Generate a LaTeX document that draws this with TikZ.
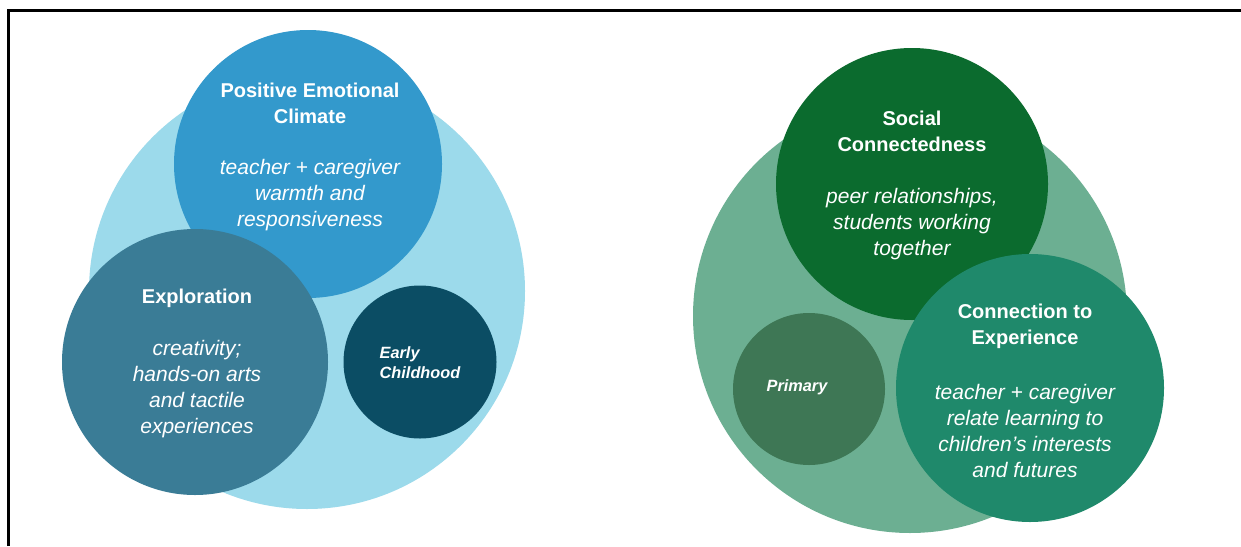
\documentclass[tikz,border=0pt]{standalone}
\usepackage{fontspec}
\setmainfont{Liberation Sans}
\definecolor{lblue}{HTML}{9CDAEB}
\definecolor{mblue}{HTML}{3399CC}
\definecolor{tblue}{HTML}{3A7C96}
\definecolor{dblue}{HTML}{0B4D64}
\definecolor{lgreen}{HTML}{6CAF92}
\definecolor{dgreen}{HTML}{0B6B2E}
\definecolor{tgreen}{HTML}{1F896B}
\definecolor{pgreen}{HTML}{3E7755}
\begin{document}
\begin{tikzpicture}[x=1pt,y=-1pt,
  disc/.style={circle, inner sep=0pt, draw=none},
  ttl/.style={text=white, font=\bfseries\fontsize{20}{26}\selectfont, align=center, inner sep=0pt},
  dsc/.style={text=white, font=\itshape\fontsize{21}{26}\selectfont, align=center, inner sep=0pt},
  tag/.style={text=white, font=\bfseries\itshape\fontsize{16.3}{20}\selectfont, align=left, inner sep=0pt}]
\useasboundingbox (0,0) rectangle (1241,546);
\fill[white] (0,0) rectangle (1241,546);
\draw[line width=3pt] (8,546) -- (8,10) -- (1241,10);
% left diagram
\node[disc, fill=lblue, minimum size=436pt] (ecbig) at (307,291) {};
\node[disc, fill=mblue, minimum size=268pt] (pec) at (308,164) {};
\node[disc, fill=tblue, minimum size=266pt] (expl) at (195,362) {};
\node[disc, fill=dblue, minimum size=153pt] (early) at (420,362) {};
\node[ttl] (pect) at (310,103) {Positive Emotional\\Climate};
\node[dsc] (pecd) at (310,195) {teacher + caregiver\\warmth and\\responsiveness};
\node[ttl] (explt) at (197,298) {Exploration};
\node[dsc] (expld) at (197,389) {creativity;\\hands-on arts\\and tactile\\experiences};
\node[tag] (earlyt) at (420,363) {Early\\Childhood};
% right diagram
\node[disc, fill=lgreen, minimum size=434pt] (prbig) at (910,316) {};
\node[disc, fill=dgreen, minimum size=272pt] (soc) at (912,184) {};
\node[disc, fill=tgreen, minimum size=268pt] (conn) at (1030,388) {};
\node[disc, fill=pgreen, minimum size=152pt] (prim) at (809,389) {};
\node[ttl] (soct) at (912,131) {Social\\Connectedness};
\node[dsc] (socd) at (912,224) {peer relationships,\\students working\\together};
\node[ttl] (connt) at (1025,326) {Connection to\\Experience};
\node[dsc] (connd) at (1025,431) {teacher + caregiver\\relate learning to\\children’s interests\\and futures};
\node[tag] (primt) at (797,387) {Primary};
\end{tikzpicture}
\end{document}
